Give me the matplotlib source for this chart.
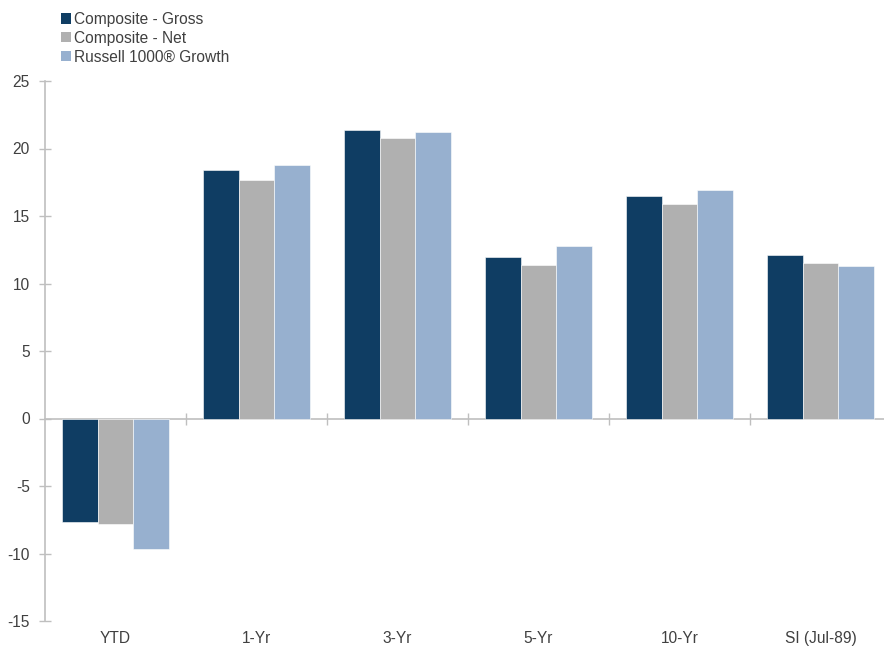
import matplotlib
matplotlib.use("Agg")
import matplotlib.pyplot as plt
import matplotlib.transforms as mtransforms
from matplotlib.patches import Patch
import numpy as np

categories = ["YTD", "1-Yr", "3-Yr", "5-Yr", "10-Yr", "SI (Jul-89)"]
series_names = ["Composite - Gross", "Composite - Net", "Russell 1000\u00ae Growth"]
gross = [-7.7, 18.4, 21.4, 12.0, 16.5, 12.1]
net = [-7.8, 17.7, 20.8, 11.4, 15.9, 11.5]
russell = [-9.7, 18.8, 21.2, 12.8, 16.9, 11.3]
yticks = [25, 20, 15, 10, 5, 0, -5, -10, -15]

colors = ["#0F3D63", "#B0B0B0", "#97B0CF"]
plt.rcParams['font.family'] = ['Liberation Sans', 'DejaVu Sans']
FS = 11.2

W, H = 884, 647
fig = plt.figure(figsize=(W / 100, H / 100), dpi=100)
ax = fig.add_axes([45 / W, 26 / H, 846 / W, 540 / H])

x = np.arange(len(categories))
bw = 0.255
for i, (vals, c) in enumerate(zip([gross, net, russell], colors)):
    ax.bar(x + (i - 1) * bw, vals, width=bw, color=c, edgecolor="white", linewidth=0.4, zorder=2)

ax.set_xlim(-0.5, len(categories) - 0.5)
ax.set_ylim(-15, 25)
ax.set_yticks(yticks)
ax.set_yticklabels([str(v) for v in yticks], fontsize=FS, color="#404040")
ax.tick_params(axis='y', direction='inout', length=8, color="#BFBFBF", width=1, pad=7)

for s in ['top', 'right']:
    ax.spines[s].set_visible(False)
ax.spines['left'].set_color("#BFBFBF")
ax.spines['left'].set_linewidth(1.2)
ax.spines['bottom'].set_position(('data', 0))
ax.spines['bottom'].set_color("#BFBFBF")
ax.spines['bottom'].set_linewidth(1.2)
ax.spines['bottom'].set_zorder(1)

ax.set_xticks(np.arange(0.5, len(categories) - 0.5, 1.0))
ax.set_xticklabels([])
ax.tick_params(axis='x', direction='inout', length=8, color="#BFBFBF", width=1)

trans = mtransforms.blended_transform_factory(ax.transData, ax.transAxes)
for xi, lab in zip(x, categories):
    ax.text(xi, -0.019, lab, transform=trans, ha='center', va='top', fontsize=FS, color="#404040")

handles = [Patch(facecolor=c, edgecolor='none') for c in colors]
fig.legend(handles, series_names, loc='upper left', bbox_to_anchor=(61 / W, 1 - 12 / H),
           frameon=False, fontsize=FS, handlelength=0.65, handleheight=0.65,
           handletextpad=0.2, labelspacing=0.24, borderaxespad=0, borderpad=0,
           labelcolor="#404040")

fig.savefig("out.png", dpi=100)
